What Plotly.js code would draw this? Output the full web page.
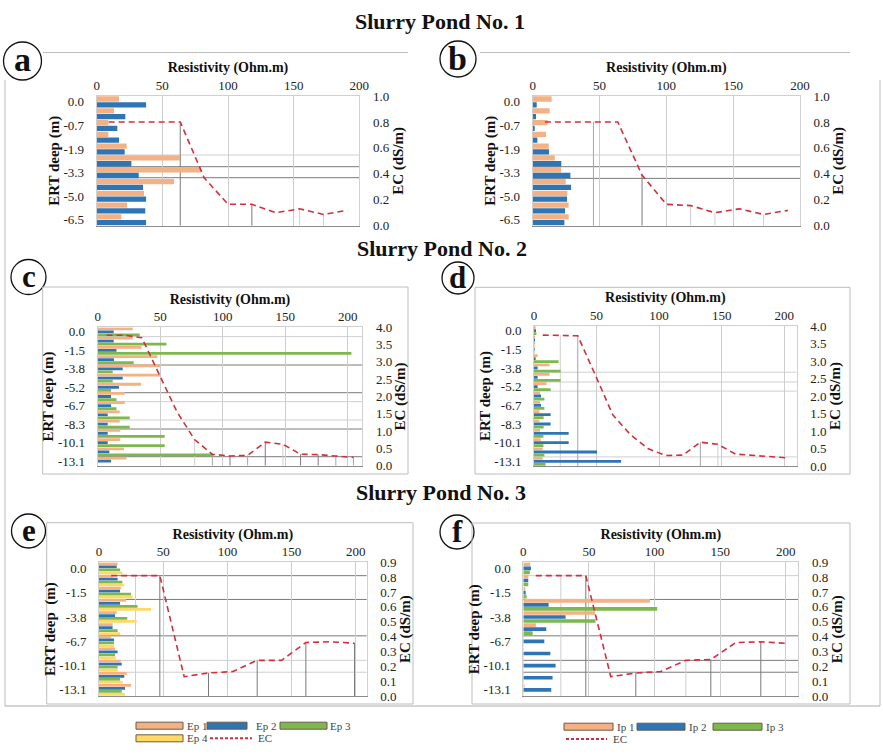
<!DOCTYPE html>
<html><head><meta charset="utf-8">
<script src="https://cdn.plot.ly/plotly-3.0.1.min.js"></script>
<style>html,body{margin:0;padding:0;background:#fff}#chart{width:883px;height:756px}</style>
</head><body><div id="chart"></div>
<script>
// ---------- DATA ----------
const depthsA = ["0.0","-0.3","-0.7","-1.3","-1.9","-2.6","-3.3","-4.1","-5.0","-5.7","-6.5"];
const ticksA = ["0.0","-0.7","-1.9","-3.3","-5.0","-6.5"];
const ep1A = [17,13.2,8.9,8.9,22.8,63.5,79.4,58.9,36,23.1,18.8];
const ep2A = [37.6,21.8,15.7,17,21.3,26.4,32,35.3,37.6,37,37.6];
const ecA = [0.8,0.8,0.8,0.8,0.37,0.165,0.165,0.10,0.13,0.087,0.118];

const ep1B = [14.2,12.7,11.2,10,12,16.5,21.2,24.7,25.9,26.9,26.9];
const ep2B = [3,2.5,1.5,3.5,12.2,21.4,28.2,28.7,25.7,24.2,23.7];
const ecB = [0.8,0.8,0.8,0.8,0.39,0.165,0.155,0.10,0.13,0.087,0.118];

const depthsC = ["0.0","-0.7","-1.5","-2.6","-3.8","-4.5","-5.2","-5.9","-6.7","-7.5","-8.3","-9.2","-10.1","-11.6","-13.1"];
const ticksC = ["0.0","-1.5","-3.8","-5.2","-6.7","-8.3","-10.1","-13.1"];
const ep1C = [28,28,35,47.7,50,50,34.7,21.6,21.6,17.6,17.6,18,18,21,23];
const ep2C = [12.8,12.8,15,13,20,20,17,10.7,10.7,8,8,8,8,9.3,10.7];
const ep3C = [33.6,55,203,28.8,12,12,10.7,15,15,25.6,25.6,53.6,53.6,92.8,0];
const ecC = [3.77,3.77,3.7,2.6,1.55,0.75,0.33,0.28,0.3,0.68,0.62,0.33,0.32,0.28,0.24];

const ep1D = [1.3,0.8,0.5,2.9,12.5,12.5,10,4.8,4.8,4.3,4.3,4.8,5.3,6.9,6.9];
const ep2D = [1.6,0.8,0.5,1.3,2.9,2.9,2.9,5.6,5.6,13.3,13.3,27.7,27.7,50.4,69.6];
const ep3D = [1.9,0.5,0.3,19.7,21.3,21.3,13.3,8.3,8.3,7.7,7.7,7.5,7.5,8.3,9.3];
const ecD = [3.74,3.74,3.72,2.6,1.46,0.9,0.5,0.3,0.31,0.68,0.62,0.34,0.31,0.27,0.23];

const depthsE = ["0.0","-0.7","-1.5","-2.6","-3.8","-5.2","-6.7","-8.3","-10.1","-11.6","-13.1"];
const ticksE = ["0.0","-1.5","-3.8","-6.7","-10.1","-13.1"];
const ep1E = [14.5,10.6,17,21,13.8,10.6,9.4,12.5,16.9,21.6,25];
const ep2E = [13.8,14.5,16.4,16.4,12.5,10.6,11.7,14.5,17.7,19.7,20.3];
const ep3E = [16.4,18.2,24.9,30,22,14.5,11.7,12.5,14.5,16.4,17.7];
const ep4E = [18.2,19.7,26.2,40.5,29.3,16.4,11.7,13.2,14.5,18.4,20.3];
const ecE = [0.81,0.81,0.81,0.13,0.155,0.165,0.24,0.24,0.36,0.365,0.355];

const ip1F = [5.3,3.8,1.5,96.4,54.6,9.6,0.5,0.5,0.5,0.5,1];
const ip2F = [5.8,3.8,1.8,19.3,32.2,17.5,16,20.6,24.6,22.3,21.3];
const ip3F = [5,3.8,2.5,102,55,7.1,0.3,0.3,0.3,0.3,0.3];
const ecF = [0.81,0.81,0.81,0.13,0.155,0.165,0.24,0.245,0.36,0.365,0.355];

const sectionTitles = ["Slurry Pond No. 1","Slurry Pond No. 2","Slurry Pond No. 3"];
const panelLetters = ["a","b","c","d","e","f"];
const legendLeft = ["Ep 1","Ep 2","Ep 3","Ep 4","EC"];
const legendRight = ["Ip 1","Ip 2","Ip 3","EC"];

// ---------- STYLE ----------
const C1='#F4B183', C2='#2E75B6', C3='#7DB84C', C4='#FFD966', CEC='#D0303C';
const FONT='Liberation Serif, Times New Roman, serif';
const W=883, H=756;
const fx=p=>p/W, fy=p=>1-p/H;
const DK='#7a7a7a', LT='#cfcfcf', MD='#a6a6a6';

const panels = [
 {depths:depthsA, ticks:ticksA, series:[[ep1A,C1],[ep2A,C2]], ec:ecA, xr:[0,200], ecr:[0,1], ecd:0.2, box:[96.7,359.3,96,225.7], ytitle:'ERT deep (m)',
  guides:[[0.545,LT],[0.455,DK],[0.37,DK]], drops:[[3,DK],[6,DK],[8,LT],[9,LT]]},
 {depths:depthsA, ticks:ticksA, series:[[ep1B,C1],[ep2B,C2]], ec:ecB, xr:[0,200], ecr:[0,1], ecd:0.2, box:[532.7,800,96,225.7], ytitle:'ERT deep (m)',
  guides:[[0.545,LT],[0.455,DK],[0.365,DK]], drops:[[2,MD],[4,DK],[6,LT],[7,LT],[9,LT]]},
 {depths:depthsC, ticks:ticksC, series:[[ep1C,C1],[ep2C,C2],[ep3C,C3]], ec:ecC, xr:[0,211.7], ecr:[0,4], ecd:0.5, box:[97.7,362.3,327.3,465.7], ytitle:'ERT deep (m)',
  guides:[[3.73,LT],[2.91,DK],[2.11,DK],[1.85,LT],[1.32,LT],[1.06,DK],[0.26,DK]], drops:[[5,LT],[6,MD],[7,DK],[8,MD],[9,DK],[10,LT],[11,DK],[12,DK],[13,MD],[14,MD]]},
 {depths:depthsC, ticks:ticksC, series:[[ep1D,C1],[ep2D,C2],[ep3D,C3]], ec:ecD, xr:[0,210], ecr:[0,4], ecd:0.5, box:[534,796.7,326,466], ytitle:'ERT deep (m)',
  guides:[[2.68,LT],[2.4,LT],[2.14,LT],[0.26,LT]], drops:[[1,LT],[2,MD],[9,MD],[10,LT]]},
 {depths:depthsE, ticks:ticksE, series:[[ep1E,C1],[ep2E,C2],[ep3E,C3],[ep4E,C4]], ec:ecE, xr:[0,208.5], ecr:[0,0.9], ecd:0.1, box:[99,366.7,562.3,696], ytitle:'ERT deep  (m)',
  guides:[[0.81,DK],[0.65,DK],[0.405,DK],[0.24,LT],[0.16,LT]], drops:[[1,LT],[2,DK],[4,DK],[6,DK],[8,DK],[10,DK]]},
 {depths:depthsE, ticks:ticksE, series:[[ip1F,C1],[ip2F,C2],[ip3F,C3]], ec:ecF, xr:[0,209.5], ecr:[0,0.9], ecd:0.1, box:[523.3,798.3,562.3,696], ytitle:'ERT deep (m)',
  guides:[[0.81,LT],[0.65,DK],[0.405,DK],[0.24,DK],[0.16,DK]], drops:[[1,LT],[2,DK],[4,DK],[6,LT],[7,DK],[9,DK]]}
];

const data=[];
const layout={
  width:W, height:H, margin:{l:0,r:0,t:0,b:0}, paper_bgcolor:'#fff', plot_bgcolor:'rgba(0,0,0,0)',
  showlegend:false, barmode:'group', bargap:0.02, bargroupgap:0.08,
  font:{family:FONT, size:13, color:'#222'},
  annotations:[], shapes:[]
};
const tfont={family:FONT,size:13,color:'#222'};
const ttl=(t,s)=>({text:'<b>'+t+'</b>', font:{family:FONT,size:s,color:'#111'}});

panels.forEach((p,i)=>{
  const k=i+1, k2=i+7;
  const xa = k===1?'xaxis':'xaxis'+k, ya = k===1?'yaxis':'yaxis'+k;
  const [l,r,t,b]=p.box;
  p.series.forEach(([vals,col])=>{
    data.push({type:'bar', orientation:'h', x:vals, y:p.depths, xaxis:'x'+k, yaxis:'y'+k,
      marker:{color:col, line:{width:0}}, hoverinfo:'skip'});
  });
  data.push({type:'scatter', mode:'lines', x:p.depths, y:p.ec, xaxis:'x'+k2, yaxis:'y'+k2,
    line:{color:CEC, width:1.6, dash:'6px,4px'}, hoverinfo:'skip'});
  layout[xa]={domain:[fx(l),fx(r)], anchor:'y'+k, side:'top', range:p.xr, tickmode:'array', tickvals:[0,50,100,150,200],
    showgrid:true, gridcolor:'#cdcdcd', gridwidth:1, zeroline:false, showline:true, linecolor:'#d0d0d0',
    ticks:'', tickfont:tfont, ticklabelstandoff:0, title:Object.assign(ttl('Resistivity (Ohm.m)',14),{standoff:1}), fixedrange:true};
  layout[ya]={domain:[fy(b),fy(t)], anchor:'x'+k, type:'category', categoryarray:p.depths, categoryorder:'array',
    range:[p.depths.length-0.5,-0.5], tickmode:'array', tickvals:p.ticks, ticktext:p.ticks,
    showgrid:false, zeroline:false, showline:true, linecolor:'#d0d0d0', ticks:'', tickfont:tfont, ticklabelstandoff:9,
    title:Object.assign(ttl(p.ytitle,15),{standoff:0}), fixedrange:true};
  layout['xaxis'+k2]={overlaying:'x'+k, anchor:'y'+k2, side:'bottom', type:'category', categoryarray:p.depths, categoryorder:'array',
    range:[-0.5,p.depths.length-0.5], showticklabels:false, ticks:'', showgrid:false, zeroline:false, showline:true, linecolor:'#8c8c8c', fixedrange:true};
  layout['yaxis'+k2]={overlaying:'y'+k, anchor:'x'+k2, side:'right', range:p.ecr, dtick:p.ecd, tick0:0, tickformat:'.1f',
    showgrid:false, zeroline:false, showline:true, linecolor:'#d0d0d0', ticks:'', tickfont:tfont, ticklabelstandoff:10,
    title:Object.assign(ttl('EC (dS/m)',15),{standoff:3}), fixedrange:true};
  p.guides.forEach(([v,col])=>layout.shapes.push({type:'line', layer:'below', xref:'x'+k+' domain', x0:0, x1:1, yref:'y'+k2, y0:v, y1:v, line:{color:col,width:1}}));
  p.drops.forEach(([j,col])=>layout.shapes.push({type:'line', layer:'below', xref:'x'+k2, x0:j, x1:j, yref:'y'+k2, y0:p.ecr[0], y1:p.ec[j], line:{color:col,width:1}}));
});

// section titles
[[440,22],[442,249],[441,492]].forEach(([x,y],i)=>{
  layout.annotations.push({xref:'paper',yref:'paper',x:fx(x),y:fy(y),text:'<b>'+sectionTitles[i]+'</b>',showarrow:false,
    font:{family:FONT,size:22,color:'#111'},xanchor:'center',yanchor:'middle'});
});
// panel letters with circles
[[22.5,61,19],[458,59,18],[28.5,277,17.5],[458,278,16],[28.5,531,17],[457,532,17]].forEach(([x,y,rr],i)=>{
  layout.shapes.push({type:'circle',xref:'paper',yref:'paper',x0:fx(x-rr),x1:fx(x+rr),y0:fy(y+rr),y1:fy(y-rr),line:{color:'#111',width:1.3}});
  layout.annotations.push({xref:'paper',yref:'paper',x:fx(x),y:fy(y-1),text:'<b>'+panelLetters[i]+'</b>',showarrow:false,
    font:{family:FONT,size:rr>=18?34:31,color:'#111'},xanchor:'center',yanchor:'middle'});
});
const pline=(x0,y0,x1,y1,col,w)=>layout.shapes.push({type:'line',xref:'paper',yref:'paper',x0:fx(x0),x1:fx(x1),y0:fy(y0),y1:fy(y1),line:{color:col||'#bdbdbd',width:w||1}});
const prect=(x0,y0,x1,y1,col,fill)=>layout.shapes.push({type:'rect',xref:'paper',yref:'paper',x0:fx(x0),x1:fx(x1),y0:fy(y1),y1:fy(y0),line:{color:col||'#bdbdbd',width:1},fillcolor:fill||'rgba(0,0,0,0)'});
pline(43,52.5,408,52.5); pline(480,52.5,850,52.5);
prect(42.7,287,408,474); prect(475,287.3,850,474); prect(46.7,522.7,413,704); prect(472,523,850,704);
pline(5,80,5,706); pline(880,80,880,706); pline(5,706,880,706,'#aaaaaa');

// legends
const lg=(x0,x1,yc,col)=>prect(x0,yc-3.5,x1,yc+3.5,'#6b5b4b',col);
const ltxt=(x,y,t)=>layout.annotations.push({xref:'paper',yref:'paper',x:fx(x),y:fy(y),text:t,showarrow:false,xanchor:'left',yanchor:'middle',borderpad:0,font:{family:FONT,size:11,color:'#444'}});
const ldash=(x0,x1,y)=>layout.shapes.push({type:'line',xref:'paper',yref:'paper',x0:fx(x0),x1:fx(x1),y0:fy(y),y1:fy(y),line:{color:CEC,width:2,dash:'3px,2px'}});
lg(136,183,725.7,C1); ltxt(186,725.7,legendLeft[0]);
lg(207,247,725.7,C2); ltxt(255,725.7,legendLeft[1]);
lg(280,327,725.7,C3); ltxt(329,725.7,legendLeft[2]);
lg(136,183,738.3,C4); ltxt(186,738.3,legendLeft[3]);
ldash(210,252,738.3); ltxt(257,738.3,legendLeft[4]);
lg(564,613,726.7,C1); ltxt(616,726.7,legendRight[0]);
lg(637,685,726.7,C2); ltxt(688,726.7,legendRight[1]);
lg(713,762,726.7,C3); ltxt(765,726.7,legendRight[2]);
ldash(566,607,739); ltxt(612,739,legendRight[3]);

Plotly.newPlot('chart', data, layout, {staticPlot:true, displayModeBar:false});
</script></body></html>
